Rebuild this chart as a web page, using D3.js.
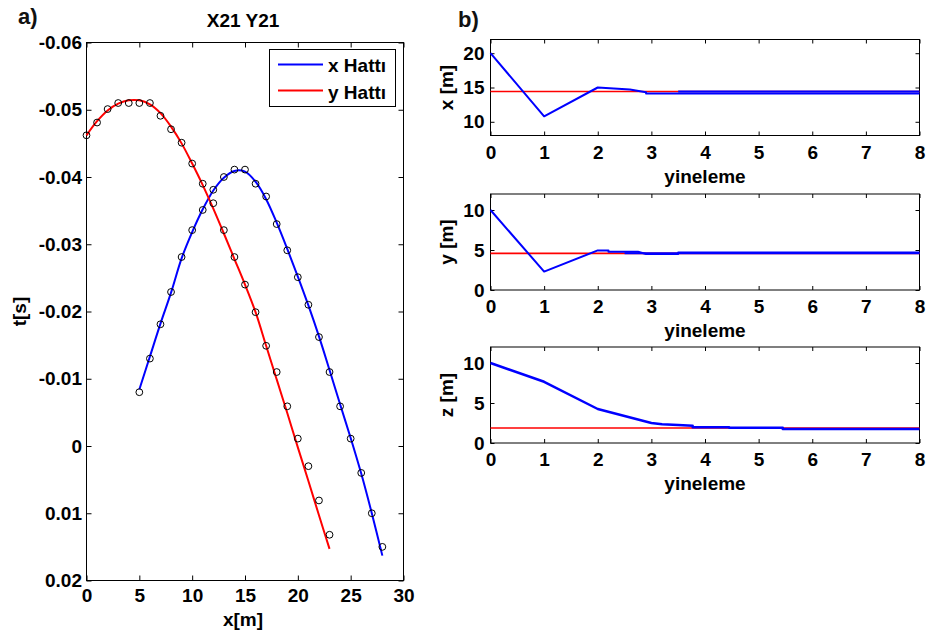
<!DOCTYPE html>
<html>
<head>
<meta charset="utf-8">
<title>X21 Y21</title>
<script src="https://d3js.org/d3.v7.min.js"></script>
<style>
  body { margin: 0; background: #fff; }
  svg text { font-family: "Liberation Sans", Arial, Helvetica, sans-serif; font-weight: bold; fill: #000; }
</style>
</head>
<body>
<div id="chart"></div>
<script>
// ---------- data ----------
// panel a)
const xmTicks = [0, 5, 10, 15, 20, 25, 30];
const tTicks = [-0.06, -0.05, -0.04, -0.03, -0.02, -0.01, 0, 0.01, 0.02];
const tTickLabels = ["-0.06", "-0.05", "-0.04", "-0.03", "-0.02", "-0.01", "0", "0.01", "0.02"];

// x Hattı (blue)
const xHatX = [5, 6, 7, 8, 9, 10, 11, 12, 13, 14, 15, 16, 17, 18, 19, 20, 21, 22, 23, 24, 25, 26, 27, 28];
const xHatLine = [-0.0084, -0.0133, -0.0182, -0.0228, -0.0279, -0.0318, -0.0352, -0.0380, -0.0399, -0.0409, -0.0408, -0.0393,
                  -0.0367, -0.0332, -0.0293, -0.0252, -0.0209, -0.0163, -0.0113, -0.0062, -0.0012, 0.0041, 0.0100, 0.0163];
const xHatObs = [-0.0080, -0.0130, -0.0181, -0.0229, -0.0281, -0.0321, -0.0351, -0.0381, -0.0400, -0.0411, -0.0411, -0.0390,
                 -0.0371, -0.0330, -0.0291, -0.0251, -0.0210, -0.0162, -0.0110, -0.0059, -0.0011, 0.0040, 0.0100, 0.0150];

// y Hattı (red)
const yHatX = [0, 1, 2, 3, 4, 5, 6, 7, 8, 9, 10, 11, 12, 13, 14, 15, 16, 17, 18, 19, 20, 21, 22, 23];
const yHatLine = [-0.0462, -0.0483, -0.0499, -0.0509, -0.0514, -0.0514, -0.0508, -0.0495, -0.0475, -0.0450, -0.0420, -0.0388,
                  -0.0353, -0.0316, -0.0278, -0.0240, -0.0199, -0.0149, -0.0099, -0.0049, 0.0002, 0.0052, 0.0103, 0.0153];
const yHatObs = [-0.0462, -0.0481, -0.0501, -0.0510, -0.0510, -0.0510, -0.0510, -0.0491, -0.0471, -0.0451, -0.0420, -0.0390,
                 -0.0361, -0.0321, -0.0281, -0.0240, -0.0199, -0.0149, -0.0110, -0.0059, -0.0011, 0.0030, 0.0081, 0.0132];

// panel b)
const iterTicks = [0, 1, 2, 3, 4, 5, 6, 7, 8];

const xTicksB = [10, 15, 20];
const xTrue = 14.42;
const xEstIter = [0, 1, 2, 2.3, 2.6, 2.9, 2.9, 8];
const xEstVal = [20, 10.8, 15.0, 14.85, 14.7, 14.3, 14.12, 14.12];
const xEst2Iter = [3.5, 8];
const xEst2Val = [14.4, 14.4];

const yTicksB = [0, 5, 10];
const yTrue = 4.58;
const yEstIter = [0, 1, 2, 2.2, 2.2, 2.75, 2.9, 3.5, 3.5, 8];
const yEstVal = [10, 2.3, 4.95, 4.95, 4.78, 4.78, 4.5, 4.5, 4.7, 4.7];
const yEst2Iter = [2.5, 8];
const yEst2Val = [4.6, 4.6];

const zTicksB = [0, 5, 10];
const zTrue = 1.87;
const zEstIter = [0, 1, 2, 3, 3.2, 3.5, 3.77, 3.77, 4.45, 4.45, 5.45, 5.45, 8];
const zEstVal = [10, 7.65, 4.25, 2.5, 2.35, 2.25, 2.17, 1.96, 1.96, 1.9, 1.9, 1.75, 1.75];

// ---------- drawing ----------
const W = 930, H = 637;
const FS = 19;
const svg = d3.select("#chart").append("svg")
  .attr("width", W).attr("height", H)
  .style("background", "#fff");

function styleAxis(g) {
  g.select(".domain").remove();
  g.attr("font-family", null).attr("font-size", null);
  g.selectAll("line").attr("stroke", "#000");
  g.selectAll("text").style("font-size", FS + "px");
}

// ---- panel a) ----
const ax = d3.scaleLinear().domain([0, 30]).range([86.5, 403.5]);
const ay = d3.scaleLinear().domain([-0.06, 0.02]).range([42.5, 580.5]);
const aTick = 5;

const pa = svg.append("g");

pa.append("g").attr("transform", `translate(0,${ay.range()[1]})`)
  .call(d3.axisBottom(ax).tickValues(xmTicks).tickSizeInner(-aTick).tickSizeOuter(0).tickPadding(8))
  .call(styleAxis);
pa.append("g").attr("transform", `translate(0,${ay.range()[0]})`)
  .call(d3.axisTop(ax).tickValues(xmTicks).tickSizeInner(-aTick).tickSizeOuter(0).tickFormat(""))
  .call(styleAxis);
pa.append("g").attr("transform", `translate(${ax.range()[0]},0)`)
  .call(d3.axisLeft(ay).tickValues(tTicks).tickSizeInner(-aTick).tickSizeOuter(0).tickPadding(4.5)
    .tickFormat((d, i) => tTickLabels[i]))
  .call(styleAxis);
pa.append("g").attr("transform", `translate(${ax.range()[1]},0)`)
  .call(d3.axisRight(ay).tickValues(tTicks).tickSizeInner(-aTick).tickSizeOuter(0).tickFormat(""))
  .call(styleAxis);

pa.append("rect")
  .attr("x", ax.range()[0]).attr("y", ay.range()[0])
  .attr("width", ax.range()[1] - ax.range()[0]).attr("height", ay.range()[1] - ay.range()[0])
  .attr("fill", "none").attr("stroke", "#000").attr("stroke-width", 1);

const aLine = d3.line().x(d => ax(d[0])).y(d => ay(d[1])).curve(d3.curveCatmullRom.alpha(0.5));

pa.append("path")
  .datum(xHatX.map((x, i) => [x, xHatLine[i]]))
  .attr("fill", "none").attr("stroke", "#0000ff").attr("stroke-width", 2)
  .attr("d", aLine);
pa.append("path")
  .datum(yHatX.map((x, i) => [x, yHatLine[i]]))
  .attr("fill", "none").attr("stroke", "#ff0000").attr("stroke-width", 2)
  .attr("d", aLine);

const obs = xHatX.map((x, i) => [x, xHatObs[i]]).concat(yHatX.map((x, i) => [x, yHatObs[i]]));
pa.append("g").selectAll("circle").data(obs).join("circle")
  .attr("cx", d => ax(d[0])).attr("cy", d => ay(d[1])).attr("r", 3.4)
  .attr("fill", "none").attr("stroke", "#000").attr("stroke-width", 1);

// legend
const lg = pa.append("g");
lg.append("rect").attr("x", 269.5).attr("y", 49.5).attr("width", 126).attr("height", 57)
  .attr("fill", "#fff").attr("stroke", "#000").attr("stroke-width", 1);
[["x Hattı", "#0000ff", 64.5, 72], ["y Hattı", "#ff0000", 90.5, 98.5]].forEach(([label, col, ly, ty]) => {
  lg.append("line").attr("x1", 278).attr("x2", 323).attr("y1", ly).attr("y2", ly)
    .attr("stroke", col).attr("stroke-width", 2);
  lg.append("text").attr("x", 328).attr("y", ty).style("font-size", FS + "px").text(label);
});

pa.append("text").attr("x", 243).attr("y", 26.5).attr("text-anchor", "middle")
  .style("font-size", FS + "px").text("X21 Y21");
pa.append("text").attr("x", 243).attr("y", 626).attr("text-anchor", "middle")
  .style("font-size", FS + "px").text("x[m]");
pa.append("text").attr("transform", `translate(26,${(ay.range()[0] + ay.range()[1]) / 2}) rotate(-90)`)
  .attr("text-anchor", "middle").style("font-size", FS + "px").text("t[s]");
pa.append("text").attr("x", 18).attr("y", 24).style("font-size", "22px").style("fill", "#111").text("a)");

// ---- panel b) ----
svg.append("text").attr("x", 458).attr("y", 27).style("font-size", "22px").style("fill", "#111").text("b)");

const bx = d3.scaleLinear().domain([0, 8]).range([490.5, 919.5]);
const bTick = 4;

function drawPanel(cfg) {
  const y = d3.scaleLinear().domain(cfg.domain).range([cfg.top + 96, cfg.top]);
  const g = svg.append("g");
  const bottom = y.range()[0], top = y.range()[1];

  g.append("g").attr("transform", `translate(0,${bottom})`)
    .call(d3.axisBottom(bx).tickValues(iterTicks).tickSizeInner(-bTick).tickSizeOuter(0).tickPadding(10))
    .call(styleAxis);
  g.append("g").attr("transform", `translate(0,${top})`)
    .call(d3.axisTop(bx).tickValues(iterTicks).tickSizeInner(-bTick).tickSizeOuter(0).tickFormat(""))
    .call(styleAxis);
  g.append("g").attr("transform", `translate(${bx.range()[0]},0)`)
    .call(d3.axisLeft(y).tickValues(cfg.ticks).tickSizeInner(-bTick).tickSizeOuter(0).tickPadding(6))
    .call(styleAxis);
  g.append("g").attr("transform", `translate(${bx.range()[1]},0)`)
    .call(d3.axisRight(y).tickValues(cfg.ticks).tickSizeInner(-bTick).tickSizeOuter(0).tickFormat(""))
    .call(styleAxis);

  g.append("rect")
    .attr("x", bx.range()[0]).attr("y", top)
    .attr("width", bx.range()[1] - bx.range()[0]).attr("height", bottom - top)
    .attr("fill", "none").attr("stroke", "#000").attr("stroke-width", 1);

  const line = d3.line().x(d => bx(d[0])).y(d => y(d[1]));

  g.append("path")
    .datum([[0, cfg.truth], [8, cfg.truth]])
    .attr("fill", "none").attr("stroke", "#ff0000").attr("stroke-width", 1.6)
    .attr("d", line);
  cfg.traces.forEach(([it, val]) => {
    g.append("path")
      .datum(it.map((x, i) => [x, val[i]]))
      .attr("fill", "none").attr("stroke", "#0000ff").attr("stroke-width", cfg.width)
      .attr("stroke-linejoin", "round")
      .attr("d", line);
  });

  g.append("text").attr("x", (bx.range()[0] + bx.range()[1]) / 2).attr("y", bottom + 47)
    .attr("text-anchor", "middle").style("font-size", FS + "px").text("yineleme");
  g.append("text").attr("transform", `translate(453,${(top + bottom) / 2}) rotate(-90)`)
    .attr("text-anchor", "middle").style("font-size", FS + "px").text(cfg.label);
}

drawPanel({ top: 39.5, domain: [8, 22], ticks: xTicksB, truth: xTrue, label: "x [m]", width: 2,
  traces: [[xEstIter, xEstVal], [xEst2Iter, xEst2Val]] });
drawPanel({ top: 194, domain: [0, 12], ticks: yTicksB, truth: yTrue, label: "y [m]", width: 2,
  traces: [[yEstIter, yEstVal], [yEst2Iter, yEst2Val]] });
drawPanel({ top: 347, domain: [0, 12], ticks: zTicksB, truth: zTrue, label: "z [m]", width: 2.5,
  traces: [[zEstIter, zEstVal]] });
</script>
</body>
</html>
